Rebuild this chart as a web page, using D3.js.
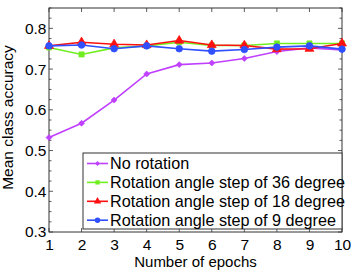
<!DOCTYPE html>
<html>
<head>
<meta charset="utf-8">
<script src="https://cdn.jsdelivr.net/npm/d3@7"></script>
<style>
  body { margin: 0; background: #fff; }
  svg { display: block; font-family: "Liberation Sans", Arial, sans-serif; }
</style>
</head>
<body>
<div id="chart"></div>
<script>
// chart data
const epochs = [1, 2, 3, 4, 5, 6, 7, 8, 9, 10];
const noRotation = [0.532, 0.567, 0.624, 0.688, 0.711, 0.715, 0.726, 0.743, 0.752, 0.747];
const step36 = [0.753, 0.736, 0.752, 0.757, 0.766, 0.758, 0.758, 0.763, 0.763, 0.763];
const step18 = [0.757, 0.766, 0.761, 0.759, 0.770, 0.759, 0.758, 0.749, 0.750, 0.763];
const step9 = [0.757, 0.759, 0.750, 0.757, 0.750, 0.744, 0.748, 0.754, 0.757, 0.749];
const seriesNames = [
    'No rotation',
    'Rotation angle step of 36 degree',
    'Rotation angle step of 18 degree',
    'Rotation angle step of 9 degree'
];
const yTicks = [0.3, 0.4, 0.5, 0.6, 0.7, 0.8];

const W = 354, H = 271;
const margin = { top: 8, right: 12, bottom: 39, left: 49 };
const width = W - margin.left - margin.right;
const height = H - margin.top - margin.bottom;
const fontSize = 15.5;

const series = [
    { name: seriesNames[0], values: noRotation, color: '#c040ff', symbol: d3.symbolDiamond2, size: 22 },
    { name: seriesNames[1], values: step36, color: '#70ee20', symbol: d3.symbolSquare, size: 26 },
    { name: seriesNames[2], values: step18, color: '#ff1010', symbol: d3.symbolTriangle, size: 34 },
    { name: seriesNames[3], values: step9, color: '#3050ff', symbol: d3.symbolCircle, size: 34 }
];

const svg = d3.select('#chart').append('svg')
    .attr('width', W)
    .attr('height', H);

const g = svg.append('g')
    .attr('transform', `translate(${margin.left},${margin.top})`);

const x = d3.scaleLinear().domain([1, 10]).range([0, width]);
const y = d3.scaleLinear().domain([0.3, 0.85]).range([height, 0]);

const axisColor = '#333';
const minorTicks = d3.range(0.3, 0.851, 0.025);

// box frame
g.append('rect')
    .attr('width', width)
    .attr('height', height)
    .attr('fill', 'none')
    .attr('stroke', axisColor)
    .attr('stroke-width', 1);

// ticks on all four sides (inward)
const tickG = g.append('g').attr('stroke', axisColor).attr('stroke-width', 0.8);
minorTicks.forEach(v => {
    const major = yTicks.some(t => Math.abs(t - v) < 1e-6);
    const len = major ? 4 : 2.5;
    tickG.append('line').attr('x1', 0).attr('x2', len).attr('y1', y(v)).attr('y2', y(v));
    tickG.append('line').attr('x1', width).attr('x2', width - len).attr('y1', y(v)).attr('y2', y(v));
});
epochs.forEach(e => {
    tickG.append('line').attr('x1', x(e)).attr('x2', x(e)).attr('y1', height).attr('y2', height - 4);
    tickG.append('line').attr('x1', x(e)).attr('x2', x(e)).attr('y1', 0).attr('y2', 4);
});

// tick labels
const xAxis = d3.axisBottom(x).tickValues(epochs).tickFormat(d3.format('d')).tickSize(0).tickPadding(6.5);
const yAxis = d3.axisLeft(y).tickValues(yTicks).tickFormat(d3.format('.1f')).tickSize(0).tickPadding(2.5);

const gx = g.append('g').attr('transform', `translate(0,${height})`).call(xAxis);
const gy = g.append('g').call(yAxis);
[gx, gy].forEach(a => {
    a.select('.domain').remove();
    a.selectAll('text').attr('font-size', fontSize).attr('fill', '#000')
        .attr('font-family', '"Liberation Sans", Arial, sans-serif');
});

// axis titles
svg.append('text')
    .attr('x', margin.left + width / 2)
    .attr('y', 266.5)
    .attr('text-anchor', 'middle')
    .attr('font-size', 15)
    .text('Number of epochs');

svg.append('text')
    .attr('transform', `translate(13,117.5) rotate(-90)`)
    .attr('text-anchor', 'middle')
    .attr('font-size', fontSize)
    .text('Mean class accuracy');

// lines and markers
const line = d3.line()
    .x((d, i) => x(epochs[i]))
    .y(d => y(d));

series.forEach(s => {
    g.append('path')
        .datum(s.values)
        .attr('fill', 'none')
        .attr('stroke', s.color)
        .attr('stroke-width', 1.6)
        .attr('d', line);
    g.selectAll(null)
        .data(s.values)
        .join('path')
        .attr('transform', (d, i) => `translate(${x(epochs[i])},${y(d)})`)
        .attr('d', d3.symbol().type(s.symbol).size(s.size))
        .attr('fill', s.color)
        .attr('stroke', s.color)
        .attr('stroke-width', 0.8);
});

// legend
const legX = 83, legY = 153, legW = 259, legH = 76;
const leg = svg.append('g');
leg.append('rect')
    .attr('x', legX).attr('y', legY)
    .attr('width', legW).attr('height', legH)
    .attr('fill', '#fff')
    .attr('stroke', axisColor)
    .attr('stroke-width', 1);

series.forEach((s, i) => {
    const ry = legY + 10.5 + i * 18.9;
    leg.append('line')
        .attr('x1', legX + 4).attr('x2', legX + 25)
        .attr('y1', ry).attr('y2', ry)
        .attr('stroke', s.color).attr('stroke-width', 1.6);
    leg.append('path')
        .attr('transform', `translate(${legX + 14.5},${ry})`)
        .attr('d', d3.symbol().type(s.symbol).size(s.size * 0.7))
        .attr('fill', s.color);
    leg.append('text')
        .attr('x', legX + 27)
        .attr('y', ry + 5.5)
        .attr('font-size', 16.2)
        .text(s.name);
});
</script>
</body>
</html>
